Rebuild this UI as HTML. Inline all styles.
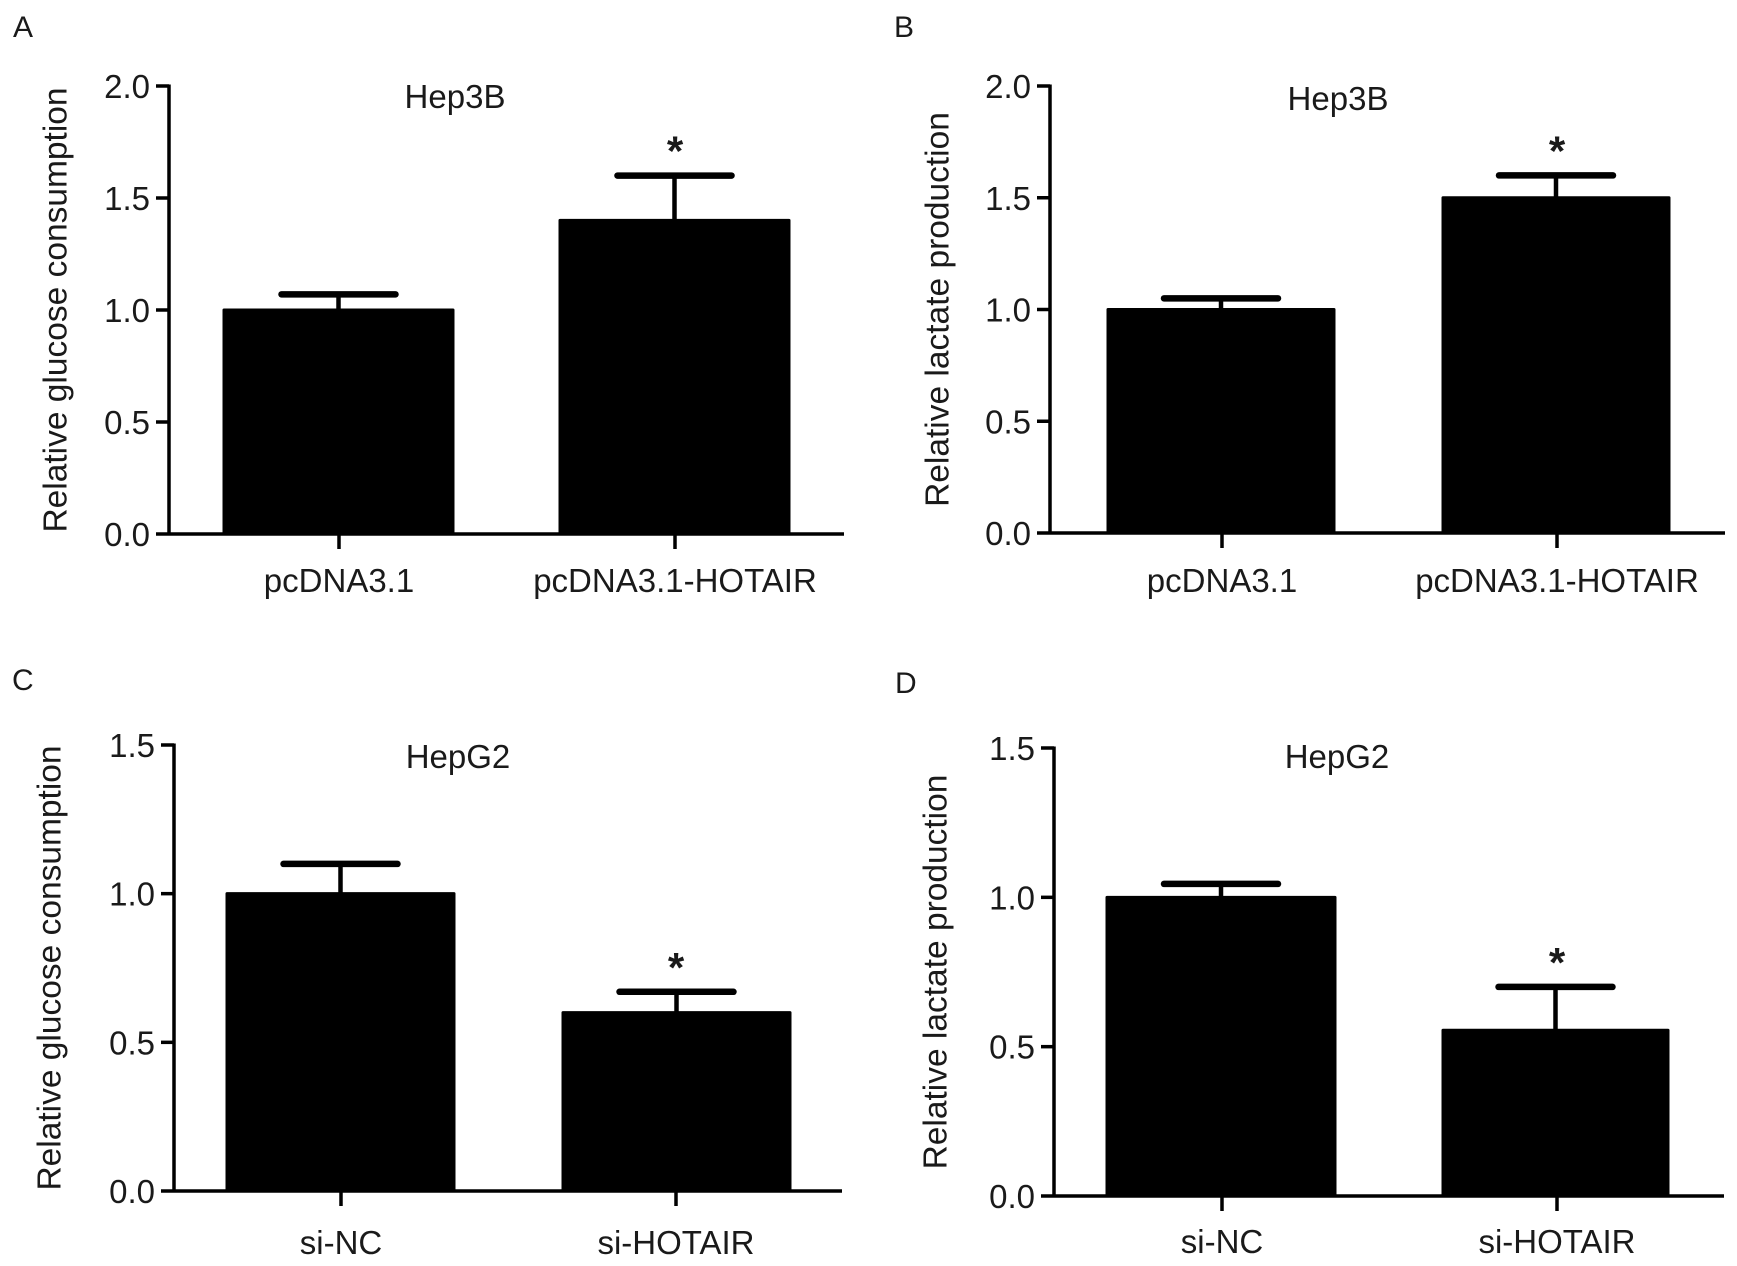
<!DOCTYPE html>
<html><head><meta charset="utf-8"><style>
html,body{margin:0;padding:0;background:#fff}
svg{display:block}
text{font-family:"Liberation Sans",Arial,sans-serif;fill:#1a1a1a}
</style></head><body>
<svg id="fig" width="1737" height="1266" viewBox="0 0 1737 1266" xmlns="http://www.w3.org/2000/svg"></svg>
<script>
const panelLetters = ["A","B","C","D"];
const panelTitles = ["Hep3B","Hep3B","HepG2","HepG2"];
const yTitles = ["Relative glucose consumption","Relative lactate production","Relative glucose consumption","Relative lactate production"];
const catsA = ["pcDNA3.1","pcDNA3.1-HOTAIR"];
const catsB = ["pcDNA3.1","pcDNA3.1-HOTAIR"];
const catsC = ["si-NC","si-HOTAIR"];
const catsD = ["si-NC","si-HOTAIR"];
const valsA = [1.00,1.40];
const errA = [0.07,0.20];
const valsB = [1.00,1.50];
const errB = [0.05,0.10];
const valsC = [1.00,0.60];
const errC = [0.10,0.07];
const valsD = [1.00,0.555];
const errD = [0.045,0.145];
const sigA = ["","*"];
const sigB = ["","*"];
const sigC = ["","*"];
const sigD = ["","*"];
const ticksAB = [0.0,0.5,1.0,1.5,2.0];
const ticksCD = [0.0,0.5,1.0,1.5];

const layouts = [
 {ax:169,x1:844,y0:534,yt:86,ymax:2.0,bars:[[224,453],[560,789]],ticks:[339,675],lx:13,ly:37,ytx:56,tcx:455,tby:108,xlb:592},
 {ax:1050,x1:1725,y0:533,yt:86,ymax:2.0,bars:[[1108,1334],[1443,1669]],ticks:[1222,1557],lx:894,ly:37,ytx:938,tcx:1338,tby:110,xlb:592},
 {ax:174,x1:842,y0:1191,yt:745,ymax:1.5,bars:[[227,454],[563,790]],ticks:[341,676],lx:12,ly:690,ytx:50,tcx:458,tby:768,xlb:1254},
 {ax:1054,x1:1724,y0:1196,yt:748,ymax:1.5,bars:[[1107,1335],[1443,1668]],ticks:[1222,1557],lx:895,ly:693,ytx:936,tcx:1337,tby:768,xlb:1253}
];
const data = [[catsA,valsA,errA,sigA,ticksAB],[catsB,valsB,errB,sigB,ticksAB],[catsC,valsC,errC,sigC,ticksCD],[catsD,valsD,errD,sigD,ticksCD]];
const NS="http://www.w3.org/2000/svg";
const svg=document.getElementById('fig');
function mk(tag,attrs,parent){const e=document.createElementNS(NS,tag);for(const k in attrs)e.setAttribute(k,attrs[k]);parent.appendChild(e);return e;}

layouts.forEach((L,i)=>{
  const [cats,vals,errs,sigs,ticks]=data[i];
  const y=v=>L.y0-(v/L.ymax)*(L.y0-L.yt);
  const g=mk('g',{},svg);
  
  
  const lt=mk('text',{x:L.lx,y:L.ly,'font-size':30},g);
  
  
  lt.textContent=panelLetters[i];
  const tt=mk('text',{x:L.tcx,y:L.tby,'font-size':33,'text-anchor':'middle'},g);
  
  
  tt.textContent=panelTitles[i];
  const cy=(L.y0+L.yt)/2;
  const yl=mk('text',{x:L.ytx,y:cy,'font-size':33.5,'text-anchor':'middle',transform:`rotate(-90 ${L.ytx} ${cy})`,'dominant-baseline':'central'},g);
  
  
  yl.textContent=yTitles[i];
  vals.forEach((v,j)=>{
    const [bx0,bx1]=L.bars[j];
    const cx=(bx0+bx1)/2;
    const top=y(v), ct=y(v+errs[j]);
    const eb=mk('line',{x1:cx,x2:cx,y1:top,y2:ct,stroke:'#000','stroke-width':4.5},g);
    
    
    const cap=mk('line',{x1:cx-57,x2:cx+57,y1:ct,y2:ct,stroke:'#000','stroke-width':6.5,'stroke-linecap':'round'},g);
    
    
    const r=mk('rect',{x:bx0,y:top,width:bx1-bx0,height:L.y0-top,fill:'#000',stroke:'#000','stroke-width':3,'stroke-linejoin':'round'},g);
    
    
    if(sigs[j]){
      const s=mk('text',{x:L.ticks[j],y:ct-10,'font-size':42,'font-weight':'bold','text-anchor':'middle'},g);
      
      
      s.textContent=sigs[j];
    }
    const xl=mk('text',{x:L.ticks[j],y:L.xlb,'font-size':33,'text-anchor':'middle'},g);
    
    
    xl.textContent=cats[j];
    const xt=mk('line',{x1:L.ticks[j],x2:L.ticks[j],y1:L.y0,y2:L.y0+15,stroke:'#000','stroke-width':3.5},g);
    
    
  });
  const ya=mk('line',{x1:L.ax,x2:L.ax,y1:L.yt-1.5,y2:L.y0+1.5,stroke:'#000','stroke-width':3.5},g);
  
  
  const xa=mk('line',{x1:L.ax,x2:L.x1,y1:L.y0,y2:L.y0,stroke:'#000','stroke-width':3.5},g);
  
  
  ticks.forEach(t=>{
    const ty=y(t);
    const tl=mk('line',{x1:L.ax-13,x2:L.ax,y1:ty,y2:ty,stroke:'#000','stroke-width':3.5},g);
    
    
    const tx=mk('text',{x:L.ax-19,y:ty+12,'font-size':33,'text-anchor':'end'},g);
    
    
    tx.textContent=t.toFixed(1);
  });
});
</script>
</body></html>
